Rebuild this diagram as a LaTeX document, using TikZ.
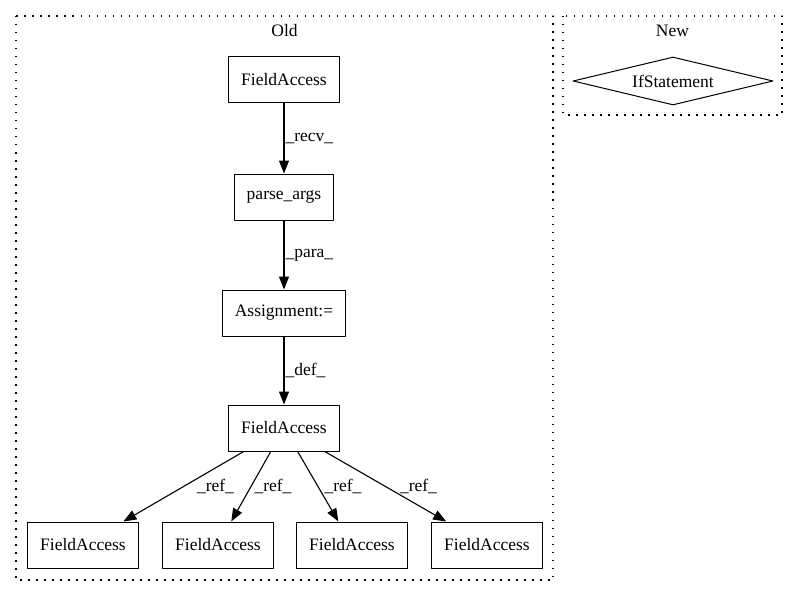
\documentclass[tikz,border=0pt]{standalone}
\usepackage{fontspec}
\setmainfont{Liberation Serif}
\usetikzlibrary{arrows.meta,shapes.geometric}
\begin{document}
\begin{tikzpicture}[x=1pt,y=-1pt,line join=round,>={Triangle[length=13pt,width=10pt]},
	font=\fontsize{17.5}{20}\selectfont,
	box/.style={draw,line width=1pt,minimum height=46pt,inner xsep=12.5pt,inner ysep=0pt},
	cluster/.style={draw,line width=1.1pt,dash pattern=on 1.5pt off 6.5pt},
	elbl/.style={inner sep=1pt},
	link/.style={->,line width=1.1pt}]
	\useasboundingbox (0,0) rectangle (799,596);
	\draw[cluster] (16,16) rectangle (553,580);
	\draw[cluster] (563,16) rectangle (782,115);
	\node (old) at (284.5,31) {Old};
	\node (new) at (672.5,31) {New};
	\node[box] (fa1) at (284,80) {FieldAccess};
	\node[box] (pa) at (284,197) {parse\_args};
	\node[box] (as) at (284,313) {Assignment:=};
	\node[box] (fa2) at (284,428) {FieldAccess};
	\node[box] (fb1) at (83,545) {FieldAccess};
	\node[box] (fb2) at (218,545) {FieldAccess};
	\node[box] (fb3) at (352,545) {FieldAccess};
	\node[box] (fb4) at (487,545) {FieldAccess};
	\node[draw,line width=1pt,diamond,aspect=4.2,inner sep=0pt,minimum width=200pt,minimum height=48pt] (ifs) at (673,81) {IfStatement};
	\draw[link] (fa1) -- node[elbl,right] {\_recv\_} (pa);
	\draw[link] (pa) -- node[elbl,right] {\_para\_} (as);
	\draw[link] (as) -- node[elbl,right] {\_def\_} (fa2);
	\draw[link] (fa2) -- node[elbl,right=12pt] {\_ref\_} (fb1);
	\draw[link] (fa2) -- node[elbl,right=2pt] {\_ref\_} (fb2);
	\draw[link] (fa2) -- node[elbl,right=5pt] {\_ref\_} (fb3);
	\draw[link] (fa2) -- node[elbl,right=13pt] {\_ref\_} (fb4);
\end{tikzpicture}
\end{document}
